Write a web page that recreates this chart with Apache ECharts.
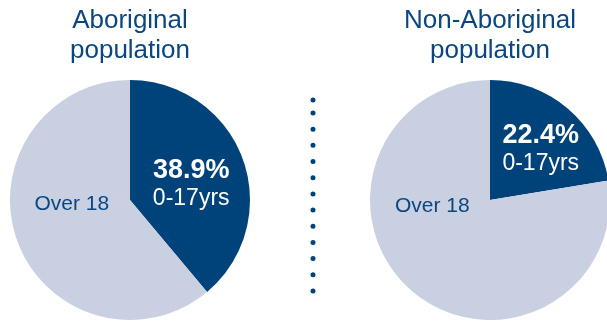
<!DOCTYPE html>
<html><head><meta charset="utf-8">
<script src="https://cdn.jsdelivr.net/npm/echarts@6/dist/echarts.min.js"></script>
<style>html,body{margin:0;padding:0;background:#fff}#c{width:607px;height:321px}</style>
</head><body><div id="c"></div>
<script>
const titles = ['Aboriginal\npopulation', 'Non-Aboriginal\npopulation'];
const categories = ['0-17yrs', 'Over 18'];
const aboriginalValues = [38.9, 61.1];
const nonAboriginalValues = [22.4, 77.6];

const DARK = '#00427a';
const LIGHT = '#c8d0e2';
const TEXT = '#0b4680';
const FONT = '"Liberation Sans", Arial, sans-serif';

function pieSeries(values, cx, offsets) {
  return {
    type: 'pie',
    center: [cx, 200],
    radius: [0, 120],
    startAngle: 90,
    clockwise: true,
    silent: true,
    labelLine: { show: false },
    data: categories.map((c, i) => ({
      name: c,
      value: values[i],
      itemStyle: { color: i === 0 ? DARK : LIGHT },
      label: i === 0 ? {
        show: true, position: 'inside', offset: offsets[0],
        formatter: p => '{p|' + p.value.toFixed(1) + '%}\n{n|' + p.name + '}',
        rich: {
          p: { fontFamily: FONT, fontSize: 27, fontWeight: 'bold', color: '#fff', lineHeight: 30 },
          n: { fontFamily: FONT, fontSize: 23, color: '#fff', lineHeight: 26 }
        }
      } : {
        show: true, position: 'inside', offset: offsets[1],
        formatter: '{b}', fontFamily: FONT, fontSize: 21, color: TEXT
      }
    }))
  };
}

const chart = echarts.init(document.getElementById('c'), null, { renderer: 'canvas' });
chart.setOption({
  animation: false,
  backgroundColor: '#fff',
  title: [
    { text: titles[0], left: 130, top: 6, textAlign: 'center', padding: 0,
      textStyle: { fontFamily: FONT, fontSize: 26, fontWeight: 'normal', color: TEXT, lineHeight: 30 } },
    { text: titles[1], left: 490, top: 6, textAlign: 'center', padding: 0,
      textStyle: { fontFamily: FONT, fontSize: 26, fontWeight: 'normal', color: TEXT, lineHeight: 30 } }
  ],
  series: [
    pieSeries(aboriginalValues, 130, [[2, 5], [1, -17]]),
    pieSeries(nonAboriginalValues, 490, [[10, -3], [-17, -42]])
  ],
  graphic: [{
    type: 'circle',
    shape: { cx: 313, cy: 100, r: 2.5 },
    style: { fill: DARK },
    silent: true
  }, {
    type: 'line',
    shape: { x1: 313, y1: 113, x2: 313, y2: 294 },
    style: { stroke: DARK, lineWidth: 5, lineDash: [0, 16.18], lineCap: 'round' },
    silent: true
  }]
});
</script></body></html>
